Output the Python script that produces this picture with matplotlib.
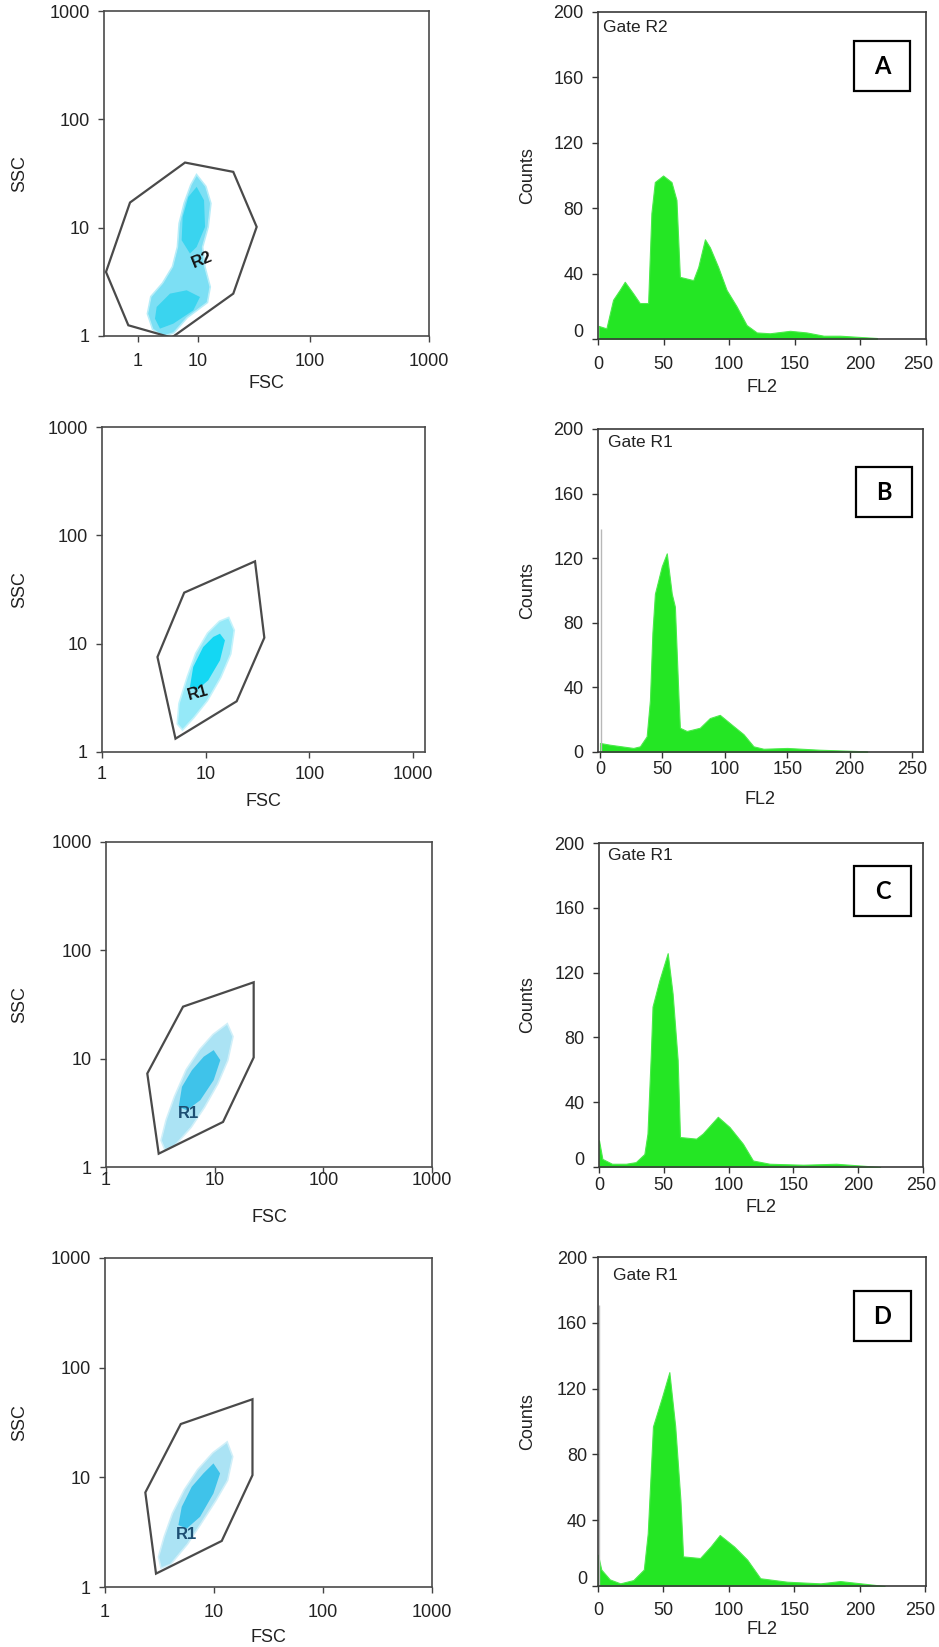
import numpy as np
import matplotlib
matplotlib.use('Agg')
import matplotlib.pyplot as plt
from matplotlib.patches import Polygon, Rectangle
from matplotlib.transforms import ScaledTranslation

plt.rcParams['font.family'] = ['Liberation Sans', 'DejaVu Sans']
plt.rcParams['font.size'] = 13

# ---------------- datos de los histogramas (FL2 vs Counts) ----------------
fl2_a = [0.5, 6.4, 11.5, 16.5, 20.4, 26.7, 31.8, 38.2, 40.7, 43.3, 49.6, 56, 59.8, 62.4,
         72.6, 76.4, 81.5, 85.3, 91.6, 98, 105.6, 113.3, 121, 131, 146.4, 159, 172, 184.6, 212.6]
cnt_a = [8, 6.5, 24, 30, 35, 28, 22, 22, 77, 96, 100, 96, 85, 38,
         36, 44, 61, 56, 44, 30, 20, 8.5, 4, 3.5, 5, 4, 2, 2, 0.6]

fl2_b = [0, 8, 26.7, 32, 37.4, 40, 42, 44, 49.5, 53.5, 57.5, 60, 63, 64, 69.5, 80, 88,
         96, 107, 115, 123, 131, 150, 176, 214]
cnt_b = [5.6, 4.5, 2.5, 3.5, 9.7, 32, 74, 98, 115, 123, 98, 90, 32, 15, 13, 15, 21,
         23, 16, 11, 3.5, 2, 2.5, 1.4, 0.4]

fl2_c = [0, 2.6, 10, 20.7, 28.4, 35, 37.4, 40, 41.3, 46.5, 53, 56.8, 60.7, 62.5, 75, 80,
         91.7, 100.7, 111, 118.8, 131.7, 157.5, 183, 217]
cnt_c = [16.5, 5, 2, 2, 3, 8, 20.6, 70, 99, 115, 132, 107, 66, 18.5, 17.5, 20.6,
         31, 24.7, 14.4, 4, 2, 1.4, 2, 0]

fl2_d = [0, 2.5, 9, 17, 27, 35, 38, 42, 49, 54.5, 59, 63, 65, 78, 86, 93, 104, 114,
         124, 144.5, 170, 185, 219]
cnt_d = [19, 10, 4, 1.6, 3.6, 10, 32, 97, 115, 130, 97, 52, 18, 17, 24, 31, 24, 16,
         4.7, 2.6, 1.6, 3, 0]

# eventos acumulados en el canal 0 (linea gris)
spike_b = 138
spike_d = 171

# ---------------- regiones (log10 FSC, log10 SSC) ----------------
gate_a = ([0.785, 1.315, 1.524, 1.315, 0.564, -0.155, -0.525, -0.127],
          [1.601, 1.515, 1.007, 0.391, -0.015, 0.099, 0.591, 1.232])
nube_a = ([0.978, 1.063, 1.107, 1.083, 1.033, 1.054, 1.101, 1.077, 0.812, 0.591, 0.425, 0.260,
           0.177, 0.232, 0.425, 0.591, 0.674, 0.702, 0.785, 0.895],
          [1.475, 1.377, 1.223, 1.007, 0.822, 0.637, 0.453, 0.314, 0.176, 0.037, 0.006, 0.068,
           0.206, 0.360, 0.484, 0.637, 0.822, 1.038, 1.223, 1.392])
nucleo_a1 = ([0.978, 1.054, 1.063, 0.978, 0.867, 0.729, 0.746, 0.840],
             [1.377, 1.253, 1.007, 0.822, 0.761, 0.884, 1.099, 1.284])
nucleo_a2 = ([0.315, 0.536, 0.812, 1.018, 0.923, 0.591, 0.370, 0.287],
             [0.268, 0.391, 0.422, 0.360, 0.237, 0.114, 0.068, 0.160])

gate_b = ([0.793, 1.476, 1.566, 1.299, 0.709, 0.535],
          [1.471, 1.760, 1.055, 0.468, 0.123, 0.877])
nube_b = ([1.218, 1.267, 1.234, 1.138, 1.009, 0.880, 0.777, 0.735, 0.751, 0.831, 0.912, 1.025, 1.138],
          [1.231, 1.123, 0.908, 0.692, 0.477, 0.323, 0.215, 0.262, 0.446, 0.692, 0.908, 1.092, 1.200])
nucleo_b = ([1.138, 1.186, 1.138, 1.025, 0.912, 0.848, 0.880, 0.976, 1.073],
            [1.092, 1.031, 0.846, 0.662, 0.569, 0.600, 0.785, 0.969, 1.062])

gate_c = ([0.709, 1.359, 1.359, 1.077, 0.485, 0.380],
          [1.480, 1.705, 1.011, 0.416, 0.123, 0.863])
nube_c = ([1.113, 1.160, 1.113, 1.021, 0.899, 0.776, 0.623, 0.546, 0.515, 0.561, 0.638, 0.745, 0.868, 0.991],
          [1.310, 1.203, 0.987, 0.771, 0.555, 0.370, 0.200, 0.170, 0.247, 0.432, 0.648, 0.894, 1.079, 1.218])
nucleo_c = ([0.991, 1.052, 0.991, 0.868, 0.745, 0.669, 0.699, 0.791, 0.899],
            [1.079, 0.987, 0.802, 0.617, 0.524, 0.555, 0.740, 0.894, 1.018])

gate_d = ([0.695, 1.353, 1.353, 1.071, 0.468, 0.370],
          [1.486, 1.712, 1.020, 0.420, 0.122, 0.862])
nube_d = ([1.117, 1.163, 1.117, 1.010, 0.872, 0.750, 0.597, 0.520, 0.499, 0.551, 0.627, 0.735, 0.857, 0.995],
          [1.310, 1.188, 0.975, 0.792, 0.579, 0.396, 0.213, 0.183, 0.274, 0.457, 0.670, 0.883, 1.066, 1.218])
nucleo_d = ([0.995, 1.056, 0.995, 0.872, 0.750, 0.673, 0.704, 0.796, 0.903],
            [1.127, 1.036, 0.853, 0.640, 0.533, 0.564, 0.731, 0.914, 1.036])

decadas = [1, 10, 100, 1000]
conteos = [0, 40, 80, 120, 160, 200]
fl2_ticks = [0, 50, 100, 150, 200, 250]

W, H = 939, 1647
fig = plt.figure(figsize=(W / 100, H / 100), dpi=100)
fig.patch.set_facecolor('white')


def ejes(caja):
    l, r, t, b = caja
    return fig.add_axes([l / W, 1 - b / H, (r - l) / W, (b - t) / H])


def poli(ax, pts, **kw):
    xy = np.column_stack([10 ** np.array(pts[0]), 10 ** np.array(pts[1])])
    ax.add_patch(Polygon(xy, closed=True, **kw))


# escala del eje FSC del panel A (decadas desiguales en la imagen)
nod_log = [-3.558, -0.558, 0, 1, 2, 3, 6]
nod_pos = [-0.557, 0, 0.1036, 0.2892, 0.6338, 1.0, 2.0986]


def fsc_a(x):
    with np.errstate(divide='ignore', invalid='ignore'):
        return np.interp(np.log10(np.asarray(x, float)), nod_log, nod_pos)


def fsc_a_inv(p):
    return 10 ** np.interp(np.asarray(p, float), nod_pos, nod_log)


paneles = [
    dict(sc=(104, 429, 11, 336), hi=(598, 926, 12, 339), gate=gate_a, nube=nube_a,
         nucleos=[nucleo_a1, nucleo_a2], c1='#7cdff4', c2='#3ad4ef', r='R2',
         rpos=(10.8, 5.0), rrot=22, rcol='#151515', rw='bold', xlim=(10 ** -0.558, 1000),
         sxpad=8, sxlab=383, x=fl2_a, y=cnt_a, spike=None, hxlim=(0, 250), hxpad=7.5,
         hxlab=387, hypad=6, cero='0\n', letra='A', caja=(854, 910, 41, 91),
         gate_txt='Gate R2', gpos=(603, 20), corr=8),
    dict(sc=(102, 425, 427, 752), hi=(598, 923, 429, 752), gate=gate_b, nube=nube_b,
         nucleos=[nucleo_b], c1='#95e9f8', c2='#14d7f3', r='R1',
         rpos=(8.5, 3.5), rrot=15, rcol='#151515', rw='bold', xlim=(1, 1306),
         sxpad=5.5, sxlab=802, x=fl2_b, y=cnt_b, spike=spike_b, hxlim=(-1.6, 258.8),
         hxpad=2, hxlab=800, hypad=6, cero='0', letra='B', caja=(856, 912, 467, 517),
         gate_txt='Gate R1', gpos=(608, 435), corr=0),
    dict(sc=(106, 432, 842, 1167), hi=(599, 923, 843, 1167), gate=gate_c, nube=nube_c,
         nucleos=[nucleo_c], c1='#abe3f4', c2='#3fc3ea', r='R1',
         rpos=(5.8, 3.1), rrot=0, rcol='#1d4f73', rw='bold', xlim=(1, 1000),
         sxpad=-1, sxlab=1217, x=fl2_c, y=cnt_c, spike=None, hxlim=(0, 250),
         hxpad=2.5, hxlab=1207, hypad=6, cero='0\n', letra='C', caja=(854, 911, 866, 916),
         gate_txt='Gate R1', gpos=(608, 848), corr=2),
    dict(sc=(105, 432, 1258, 1587), hi=(598, 926, 1257, 1586), gate=gate_d, nube=nube_d,
         nucleos=[nucleo_d], c1='#abe3f4', c2='#3fc3ea', r='R1',
         rpos=(5.6, 3.0), rrot=0, rcol='#1d4f73', rw='bold', xlim=(1, 1000),
         sxpad=7.5, sxlab=1637, x=fl2_d, y=cnt_d, spike=spike_d, hxlim=(0, 250.6),
         hxpad=7, hxlab=1630, hypad=3.5, cero='0\n', letra='D', caja=(854, 911, 1291, 1341),
         gate_txt='Gate R1', gpos=(613, 1268), corr=5),
]

for p in paneles:
    # ---------- FSC / SSC ----------
    ax = ejes(p['sc'])
    if p['letra'] == 'A':
        ax.set_xscale('function', functions=(fsc_a, fsc_a_inv))
    else:
        ax.set_xscale('log')
    ax.set_yscale('log')
    ax.set_xlim(*p['xlim'])
    ax.set_ylim(1, 1000)
    poli(ax, p['nube'], fc=p['c1'], ec=p['c1'], lw=2.5, alpha=0.55)
    poli(ax, p['nube'], fc=p['c1'], ec='none')
    for n in p['nucleos']:
        poli(ax, n, fc=p['c2'], ec='none')
    poli(ax, p['gate'], fill=False, ec='#4a4a4a', lw=1.6)
    ax.text(p['rpos'][0], p['rpos'][1], p['r'], rotation=p['rrot'], color=p['rcol'],
            fontweight=p['rw'], fontsize=12, ha='center', va='center')
    ax.set_xticks(decadas, ['1', '10', '100', '1000'])
    ax.set_yticks(decadas, ['1', '10', '100', '1000'])
    ax.minorticks_off()
    ax.tick_params(axis='x', length=4.5, width=1, color='#444', pad=p['sxpad'],
                   labelsize=13, labelcolor='#222')
    ax.tick_params(axis='y', length=4.5, width=1, color='#444', pad=5.5,
                   labelsize=13, labelcolor='#222')
    for s in ax.spines.values():
        s.set_color('#4a4a4a')
        s.set_linewidth(1.2)
    l, r, t, b = p['sc']
    ax.set_xlabel('FSC', fontsize=13, color='#222', va='center')
    ax.xaxis.set_label_coords(0.5, (b - p['sxlab']) / (b - t))
    ax.set_ylabel('SSC', fontsize=13, color='#222', va='center')
    ax.yaxis.set_label_coords((20 - l) / (r - l), 0.5)

    # ---------- histograma FL2 ----------
    hx = ejes(p['hi'])
    if p['spike'] is not None:
        hx.vlines(0.6, 0, p['spike'], color='#b8b8b8', lw=1.0)
    hx.fill_between(p['x'], 0, p['y'], color='#24e624', lw=0.8, ec='#4cea4c')
    hx.set_xlim(*p['hxlim'])
    hx.set_ylim(0, 200)
    hx.set_xticks(fl2_ticks, [str(v) for v in fl2_ticks])
    hx.set_yticks(conteos, [p['cero']] + [str(v) for v in conteos[1:]])
    hx.tick_params(axis='x', length=4.5, width=1, color='#333', pad=p['hxpad'],
                   labelsize=13, labelcolor='#222')
    hx.tick_params(axis='y', length=4.5, width=1, color='#333', pad=p['hypad'],
                   labelsize=13, labelcolor='#222')
    # la etiqueta 250 queda algo a la izquierda de su marca en la figura original
    if p['corr']:
        ult = hx.xaxis.get_major_ticks()[-1].label1
        ult.set_transform(ult.get_transform() +
                          ScaledTranslation(-p['corr'] / 100, 0, fig.dpi_scale_trans))
    for s in hx.spines.values():
        s.set_color('#3a3a3a')
        s.set_linewidth(1.2)
    l, r, t, b = p['hi']
    hx.set_xlabel('FL2', fontsize=13, color='#222', va='center')
    hx.xaxis.set_label_coords(0.5, (b - p['hxlab']) / (b - t))
    hx.set_ylabel('Counts', fontsize=13, color='#222', va='center')
    hx.yaxis.set_label_coords((528 - l) / (r - l), 0.5)

    fig.text(p['gpos'][0] / W, 1 - p['gpos'][1] / H, p['gate_txt'], fontsize=12.5,
             color='#222', ha='left', va='top')

    # recuadro con la letra del panel
    x0, x1, y0, y1 = p['caja']
    fig.add_artist(Rectangle((x0 / W, 1 - y1 / H), (x1 - x0) / W, (y1 - y0) / H,
                             transform=fig.transFigure, fill=False, ec='black', lw=1.6))
    fig.text((x0 + x1) / 2 / W, 1 - (y0 + y1) / 2 / H, p['letra'], fontsize=17,
             fontweight='bold', family=['Lato', 'DejaVu Sans'], ha='center', va='center')

fig.savefig('out.png', dpi=100, facecolor='white')
